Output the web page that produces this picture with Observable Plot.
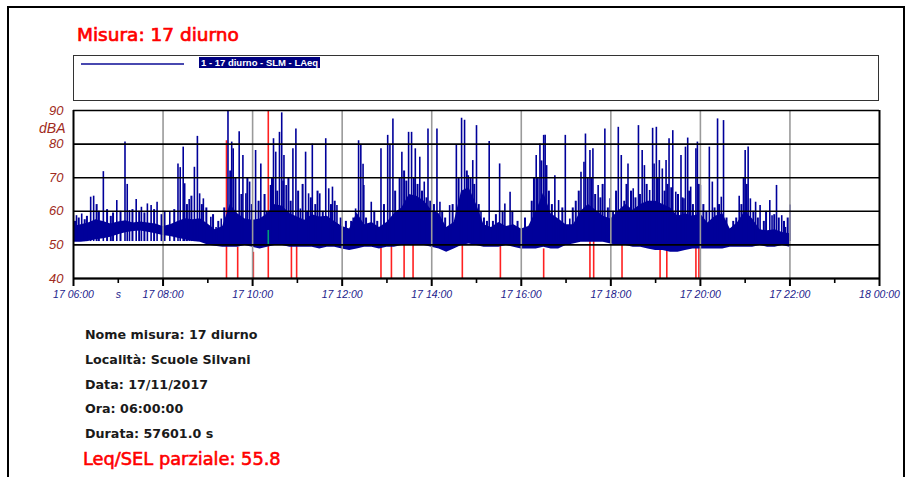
<!DOCTYPE html>
<html><head><meta charset="utf-8">
<script src="https://cdn.jsdelivr.net/npm/d3@7"></script>
<script src="https://cdn.jsdelivr.net/npm/@observablehq/plot@0.6"></script>
<style>
html,body{margin:0;padding:0;background:#fff;}
#page{position:relative;width:914px;height:477px;overflow:hidden;background:#fff;}
#frame{position:absolute;left:7px;top:6px;width:898px;height:520px;border:2px solid #000;box-sizing:border-box;}
.t{position:absolute;white-space:nowrap;line-height:normal;}
#title{left:77px;top:23.8px;font-family:"DejaVu Sans";font-size:18.5px;color:#ff0000;-webkit-text-stroke:0.7px #ff0000;}
#legend{position:absolute;left:73px;top:55px;width:806px;height:46px;border:1.5px solid #333;box-sizing:border-box;}
#legline{position:absolute;left:81px;top:62.5px;width:103px;height:2px;background:#4848b0;}
#leglabel{position:absolute;left:199px;top:57px;height:11px;padding:0 2px;background:#000080;color:#fff;font-family:"Liberation Sans",Arial,sans-serif;font-weight:bold;font-size:9.5px;line-height:11px;white-space:nowrap;}
#chart{position:absolute;left:0;top:100px;}
#chart svg text{font-style:italic;}
.info{left:85px;font-family:"DejaVu Sans";font-weight:bold;font-size:12.7px;color:#1a1a1a;}
#leq{left:83px;top:447.5px;font-family:"DejaVu Sans";font-size:17.8px;color:#ff0000;-webkit-text-stroke:0.6px #ff0000;}
</style>
</head><body>
<div id="page">
  <div id="frame"></div>
  <div id="title" class="t">Misura: 17 diurno</div>
  <div id="legend"></div>
  <div id="legline"></div>
  <div id="leglabel">1 - 17 diurno - SLM - LAeq</div>
  <div id="chart"></div>
  <div id="info"></div>
  <div id="leq" class="t"></div>
</div>
<script>
// ---- data (minutes from 17/11 06:00, dB(A)) ----
const seriesName = "1 - 17 diurno - SLM - LAeq";
const bodyTime = d3.range(0, 961, 10);
const bodyLow = [50.8,50.8,51.0,51.5,51.8,52.3,53.0,53.6,54.0,54.1,53.8,53.3,52.8,52.5,52.0,51.5,51.0,50.8,50.0,49.6,
  49.3,49.3,49.3,49.8,49.3,48.8,49.3,49.8,49.8,49.3,49.3,49.3,49.3,48.8,49.3,49.3,48.8,48.3,48.8,49.3,
  49.3,48.8,49.3,49.3,49.8,49.8,49.8,49.8,49.3,48.8,47.8,48.8,49.8,50.3,49.8,49.3,49.3,49.3,49.8,49.3,
  48.8,48.8,48.8,49.3,48.8,48.8,49.8,50.3,50.8,50.8,50.8,50.8,50.3,49.8,49.8,49.3,49.3,48.8,48.3,48.3,
  47.8,47.8,48.3,48.8,48.8,48.8,48.8,48.8,49.3,49.3,49.3,49.3,49.8,49.3,49.3,49.8,49.3];
const bodyHigh = [55.5,56.0,56.5,57.5,57.0,56.2,56.8,57.2,56.5,56.8,56.5,56.2,55.5,56.0,57.0,57.8,57.5,57.8,56.2,54.5,
  55.5,62.0,59.3,57.7,57.3,57.7,59.3,62.0,61.5,59.3,58.3,57.3,59.0,58.3,58.5,57.0,55.5,54.7,59.5,56.0,
  56.7,55.2,56.7,59.3,61.0,65.0,64.5,63.0,60.3,59.3,55.2,56.7,66.0,67.0,62.0,56.0,55.2,56.7,55.5,56.0,
  54.7,55.5,60.0,65.5,59.3,57.7,56.0,56.0,60.0,62.0,60.3,58.5,57.7,60.0,62.0,60.3,62.0,63.0,63.0,62.0,
  61.0,58.5,59.3,58.5,59.3,56.5,58.5,59.3,54.7,56.7,60.0,57.7,54.5,54.2,54.5,53.7,53.3];
const spikeTime = [4,11,23,27,40,58,69,72,75,84,91,99,104,112,129,140,143,147,149,155,162,166,169,174,184,191,
  198,207,212,214,222,227,231,236,244,251,264,268,271,276,279,282,285,294,298,304,311,315,320,330,338,342,347,353,378,382,385,389,
  388,399,412,421,424,428,434,440,449,453,458,464,470,475,487,491,504,513,520,524,529,535,540,546,557,571,578,
  585,620,625,630,632,634,645,650,659,665,680,684,686,692,696,703,712,719,730,734,743,750,757,762,765,772,776,
  778,781,785,789,794,798,803,807,814,818,820,823,827,834,836,840,852,856,863,868,871,879,892,900,904,907,914,920,933,936,942,949,954,960];
const spikePeak = [58.7,59.2,64.2,64.5,71.8,63.2,80.6,68.0,60.2,63.5,61.2,62.2,61.7,62.7,59.7,74.1,73.0,79.1,68.2,63.5,73.1,82.3,65.2,63.7,58.2,55.2,
  57.7,90,80.6,78.6,83.7,76.6,65.2,68.7,78.1,74.1,67.7,81.6,77.6,83.5,89.3,76.6,67.7,78.6,84.5,60.7,77.6,65.2,80,65.2,81.6,66.7,67.2,61.7,60.7,81,79.6,67.7,
  74,62.7,78.6,82.6,79.6,87.5,60.2,77.6,83.5,83.5,78.6,76.1,68.7,84.5,84.5,62.7,61.7,79.6,87.7,87.1,70.6,75.1,85.5,59.7,80.8,74.1,62.2,
  65.7,76.6,80,82.6,82.6,73.6,70.6,63.2,82.6,57.7,71.6,74.6,83,78.1,78.6,67.7,84.5,63.7,85,76.6,74.1,66.7,85.5,78.1,73.6,66.2,84.7,
  74.1,85,75.1,72.6,75.1,81.6,84,65.7,76.6,63.7,79.1,81.8,67.2,78.6,80.6,67.7,79.1,68.7,87.5,64.2,87,54.2,64.5,78.1,79.1,63.7,62.7,61.7,63.2,58.7,67.7,58.7,55.2,61.9];
// smaller peaks that make up the ragged top of the dense band
const minorTime = [2,7,15,18,31,34,45,50,53,63,79,88,95,108,118,122,135,152,158,172,178,187,194,
  202,210,217,225,233,239,248,256,259,266,273,281,288,291,301,307,313,318,324,327,334,345,350,358,365,372,375,
  392,403,407,416,431,437,443,446,456,461,467,473,478,483,494,498,508,516,527,532,537,543,550,554,562,566,575,
  588,595,605,614,617,622,627,637,641,655,669,673,677,689,694,699,706,709,716,723,727,738,741,747,753,759,768,
  783,792,796,801,810,816,825,830,838,844,848,859,865,875,884,888,895,898,902,911,917,925,928,939,945,952,957];
const minorPeak = [57,58,57.5,58.5,62,60,60.5,58.5,59.5,60,60.5,60,59.5,60.5,59,60,60.5,62,64.5,62,61,59,57,
  61,72,70,65,70,62,63,65,60,70,66,69,70,63,66,68,60,64,62,66,60,62,63,58,57,57,58,
  58,60,57,62,66,70,72,69,70,68,66,64,63,62,60,58,62,70,72,70,68,62,58,57,57,59,60,
  60,57,58,63,70,70,75,66,62,61,61,63,66,70,70,65,64,68,61,60,66,63,68,66,64,65,68,
  70,66,68,67,65,64,66,62,68,62,60,61,62,58,57,58,62,70,68,60,58,57,60,59,58,57,58];
const markTime = [205,220,241,261,292,299,412,426,443,455,521,572,630,692,697,735,786,795,834,838];
const markTop  = [81,49.3,47.8,90,49.8,49.8,50,50,53.2,51.8,51.8,50,48.8,52.3,53.2,49.8,48.3,49.3,49.8,50.8];
const greenTime = [261], greenFrom = [50], greenTo = [54.3];
const yTicks = [40,50,60,70,80,90];
const xMajor = [0,120,240,360,480,600,720,840,960,1080];
const xLabels = ["17 06:00","17 08:00","17 10:00","17 12:00","17 14:00","17 16:00","17 18:00","17 20:00","17 22:00","18 00:00"];
const xMinor = [60,180,300,420,540,660,780,900,1020];
const xUnitTick = [60], xUnitLabel = "s";
const yUnit = "dBA";
const infoLines = ["Nome misura: 17 diurno","Località: Scuole Silvani","Data: 17/11/2017","Ora: 06:00:00","Durata: 57601.0 s"];
const leqText = "Leq/SEL parziale: 55.8";

// ---- tables ----
const body = bodyTime.map((t,i)=>({t, low: bodyLow[i], high: bodyHigh[i]}));
const spikes = spikeTime.map((t,i)=>({t, peak: spikePeak[i]}));
const minors = minorTime.map((t,i)=>({t, peak: minorPeak[i]}));
const marks = markTime.map((t,i)=>({t, top: markTop[i]}));
const green = greenTime.map((t,i)=>({t, from: greenFrom[i], to: greenTo[i]}));
const labelMap = new Map(xMajor.map((d,i)=>[d, xLabels[i]]));

const navy = "#00009a";
const xText = {fill: "#1c1c8c", stroke: "#000", fontSize: 10.5, fontStyle: "italic"};
const chart = Plot.plot({
  width: 914, height: 210,
  marginLeft: 73, marginRight: 35, marginTop: 10, marginBottom: 32,
  x: {domain: [0, 1080], axis: null, label: null},
  y: {domain: [40, 90], axis: null, label: null},
  style: {background: "transparent", fontFamily: "'Liberation Sans', Arial, sans-serif", overflow: "visible"},
  marks: [
    Plot.ruleX(marks, {x: "t", y1: 40, y2: "top", stroke: "#ff2020", strokeWidth: 1.6}),
    Plot.areaY(body, {x: "t", y1: "low", y2: "high", fill: navy}),
    Plot.ruleX(minors, {x: "t", y1: 51, y2: "peak", stroke: navy, strokeWidth: 2}),
    Plot.ruleX(spikes, {x: "t", y1: 51, y2: "peak", stroke: navy, strokeWidth: 1.6}),
    Plot.ruleX(green, {x: "t", y1: "from", y2: "to", stroke: "#00a078", strokeWidth: 1.6}),
    Plot.ruleX(xMajor.slice(1, -1), {stroke: "#9a9a9a", strokeWidth: 1.6}),
    Plot.ruleY(yTicks, {stroke: "#000", strokeWidth: 1.6}),
    Plot.ruleX([xMajor[0], xMajor[xMajor.length-1]], {stroke: "#000", strokeWidth: 2}),
    Plot.ruleY([yTicks[0]], {stroke: "#000", strokeWidth: 2}),
    Plot.axisX(xMajor, {tickSize: 8, tickPadding: 4, tickFormat: d => labelMap.get(d), strokeWidth: 2, label: null, ...xText}),
    Plot.axisX(xMinor, {tickSize: 5, tickFormat: () => "", strokeWidth: 1.6, label: null, ...xText}),
    Plot.axisX(xUnitTick, {tickSize: 0, tickPadding: 12, tickFormat: () => xUnitLabel, label: null, ...xText}),
    Plot.axisY(yTicks, {tickSize: 0, tickPadding: 10, fill: "#a02a20", fontSize: 13, fontStyle: "italic", label: null}),
    Plot.text([yUnit], {x: 0, y: 84.6, dx: -8, textAnchor: "end", fill: "#a02a20", fontSize: 14, fontStyle: "italic"})
  ]
});
document.getElementById("chart").appendChild(chart);

const info = document.getElementById("info");
const tops = [327.2, 352.2, 376.7, 401.2, 425.7];
infoLines.forEach((s,i)=>{
  const d = document.createElement("div");
  d.className = "t info"; d.style.top = tops[i] + "px"; d.textContent = s;
  info.appendChild(d);
});
document.getElementById("leq").textContent = leqText;
</script>
</body></html>
